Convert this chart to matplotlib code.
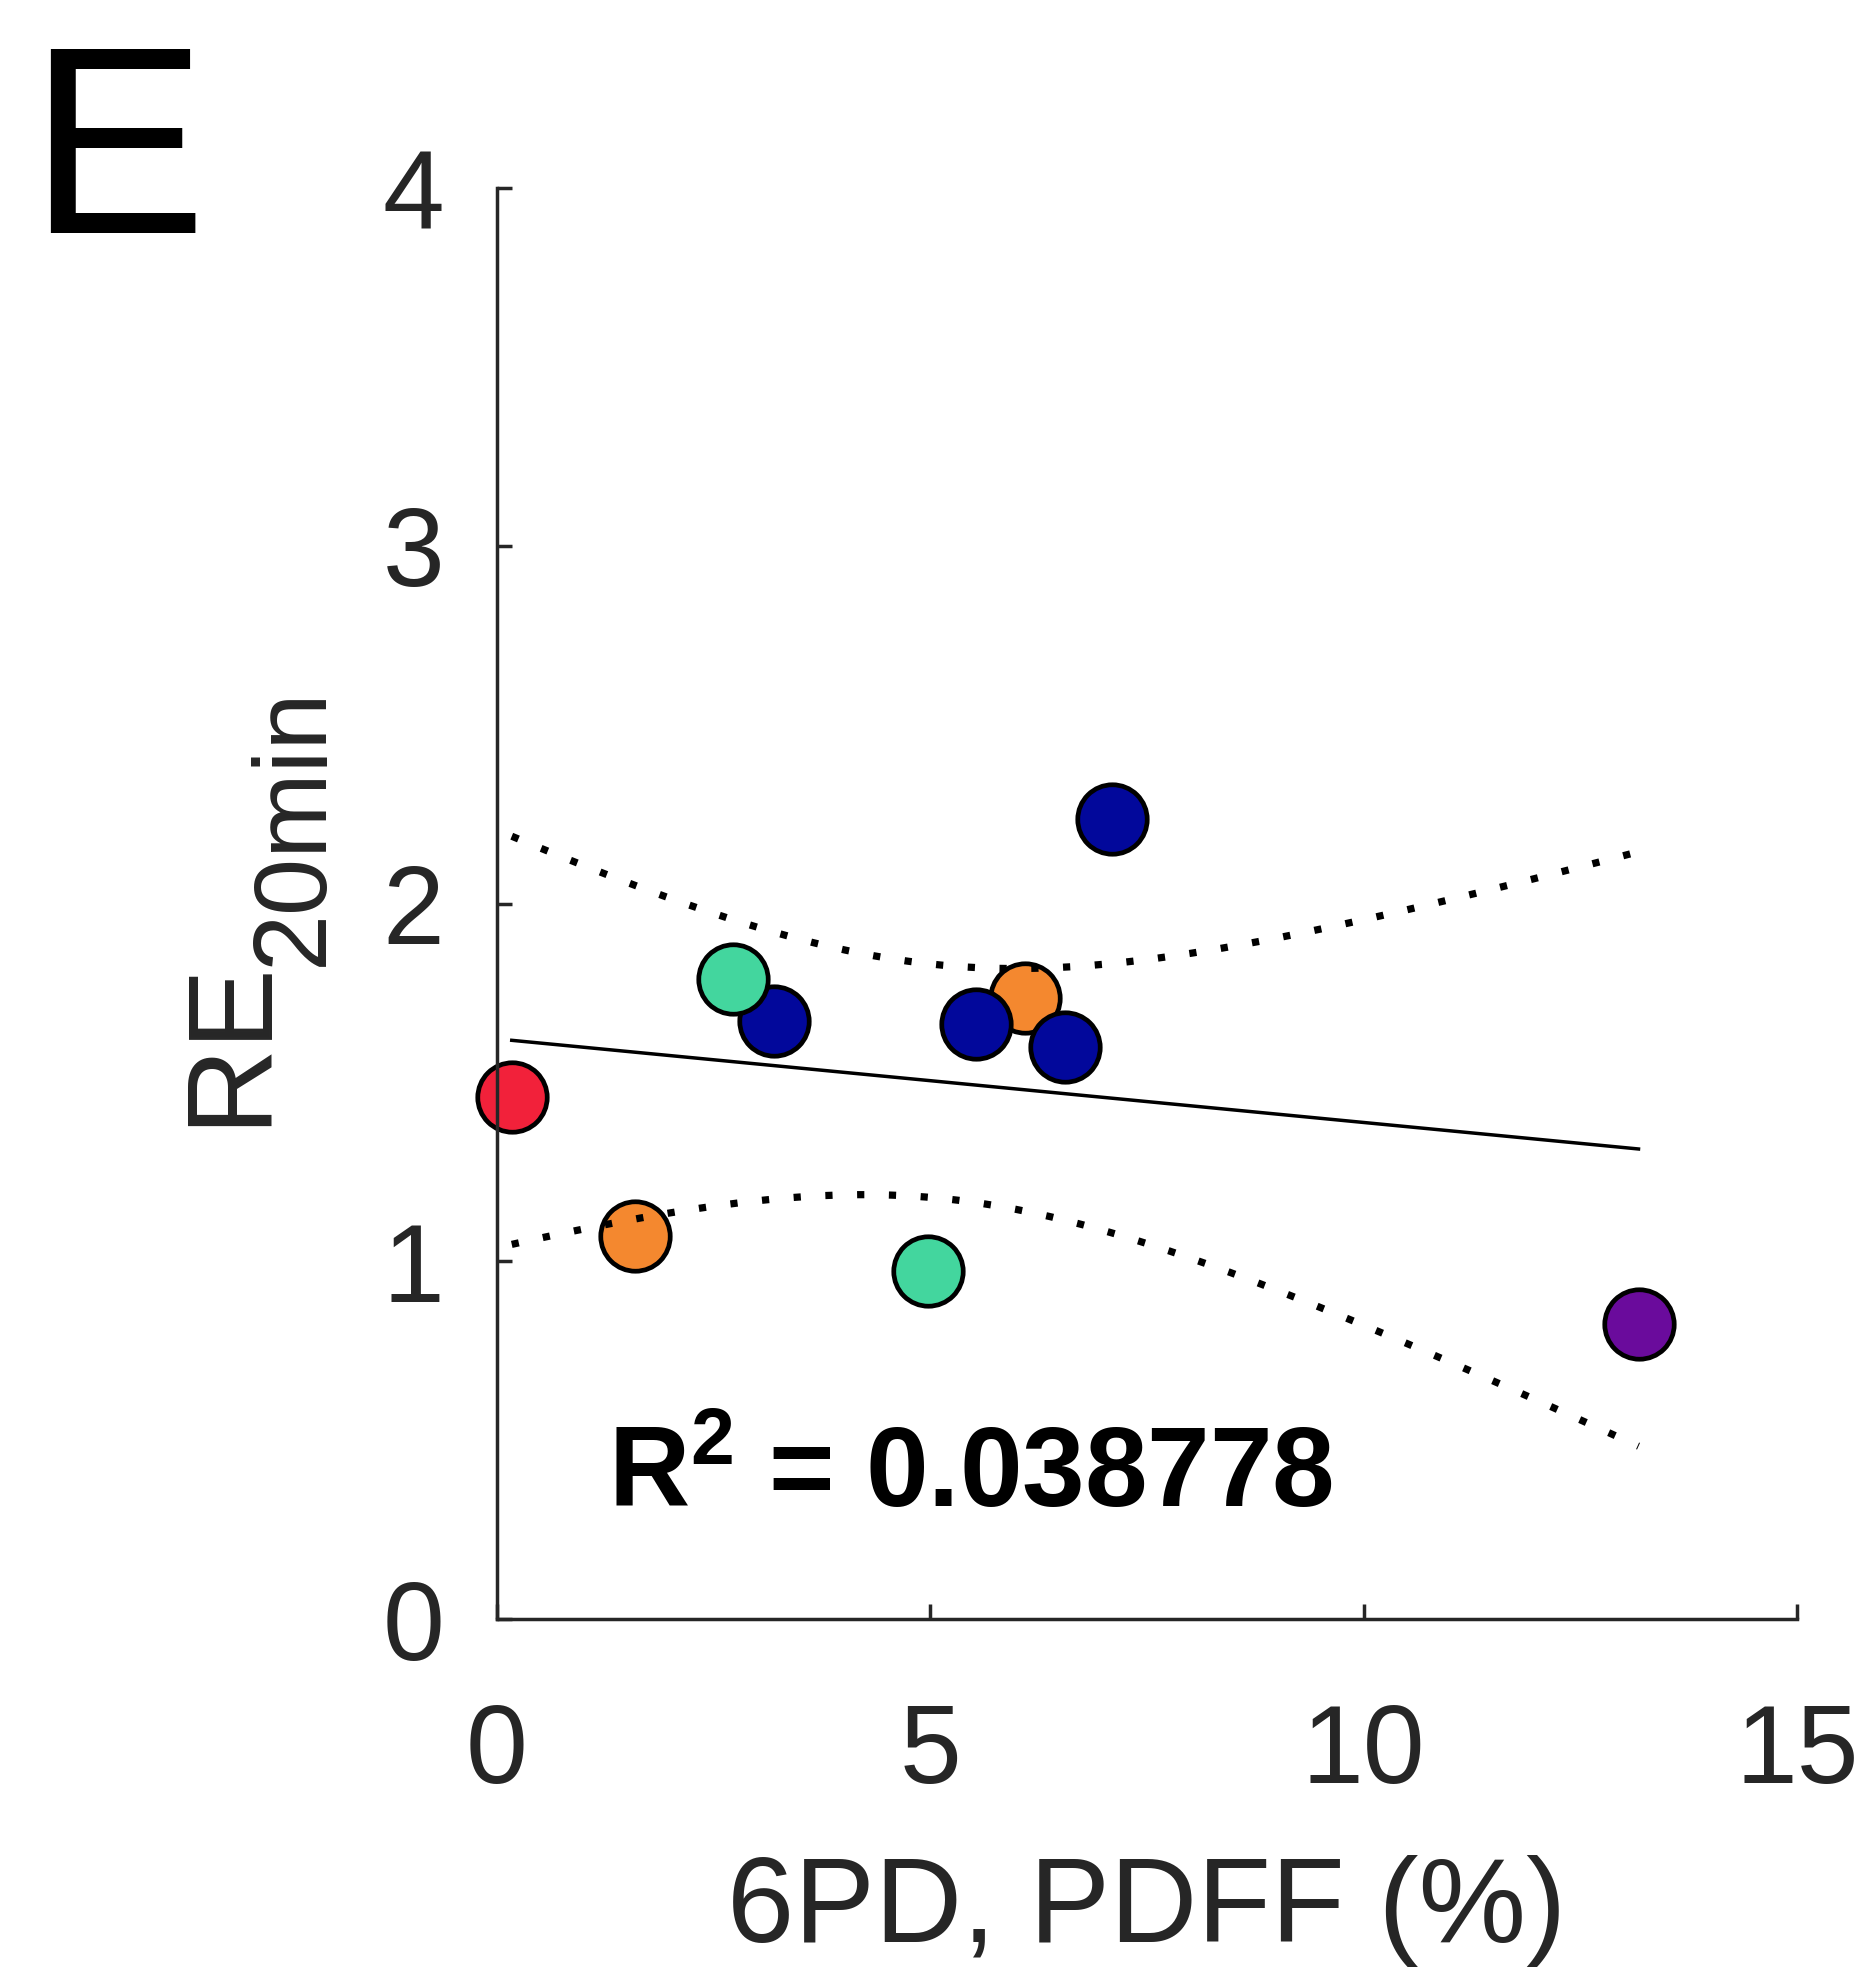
import numpy as np
import matplotlib
matplotlib.use("Agg")
import matplotlib.pyplot as plt

plt.rcParams['font.family'] = ['Liberation Sans', 'DejaVu Sans']
plt.rcParams['mathtext.fontset'] = 'custom'
plt.rcParams['mathtext.rm'] = 'Liberation Sans'
plt.rcParams['mathtext.it'] = 'Liberation Sans:italic'
plt.rcParams['mathtext.bf'] = 'Liberation Sans:bold'

# ---- data ----
pdff = [0.17, 1.59, 2.72, 3.19, 4.97, 5.53, 6.09, 6.55, 7.10, 13.17]
re20 = [1.459, 1.071, 1.789, 1.671, 0.974, 1.662, 1.736, 1.600, 2.236, 0.825]
group = ['red', 'orange', 'green', 'blue', 'green', 'blue', 'orange', 'blue', 'blue', 'purple']
group_order = ['orange', 'blue', 'green', 'red', 'purple']
group_colors = {'red': '#F2213A', 'orange': '#F4882F', 'green': '#43D69E',
                'blue': '#02089B', 'purple': '#6A0B9C'}
xticks = [0, 5, 10, 15]
yticks = [0, 1, 2, 3, 4]
r2_label = r'$\mathbf{R^2}$ = 0.038778'
xlabel = '6PD, PDFF (%)'
ylabel_main = 'RE'
ylabel_sub = '20min'
t_crit = 2.306  # t(0.975, df=8)

x = np.array(pdff)
y = np.array(re20)

W, H = 1872, 1973
fig = plt.figure(figsize=(W / 100, H / 100), dpi=100)
ax = fig.add_axes([0.2655, 0.1794, 0.9600 - 0.2655, 0.9047 - 0.1794])

for g in group_order:
    idx = [i for i, gg in enumerate(group) if gg == g]
    ax.plot(x[idx], y[idx], 'o', ms=50, mfc=group_colors[g], mec='black',
            mew=3.4, ls='none', zorder=2, clip_on=False)

# linear fit and 95% confidence band of the mean
slope, intercept = np.polyfit(x, y, 1)
n = len(x)
resid = y - (slope * x + intercept)
s = np.sqrt(np.sum(resid ** 2) / (n - 2))
xm = x.mean()
sxx = np.sum((x - xm) ** 2)
xf = np.linspace(x.min(), x.max(), 200)
yf = slope * xf + intercept
hw = t_crit * s * np.sqrt(1.0 / n + (xf - xm) ** 2 / sxx)

ax.plot(xf, yf, color='black', lw=2.5, zorder=3)
for band in (yf + hw, yf - hw):
    ax.plot(xf, band, color='black', lw=5.2, ls=(0, (1, 3.4)),
            dash_capstyle='butt', zorder=3)

ax.text(1.28, 0.316, r2_label, fontsize=81, fontweight='bold', color='black',
        ha='left', va='baseline', zorder=4)

ax.set_xlim(0, 15)
ax.set_ylim(0, 4)
ax.set_xticks(xticks)
ax.set_yticks(yticks)
ax.set_xticklabels([str(t) for t in xticks])
ax.set_yticklabels([str(t) for t in yticks])
for side in ('top', 'right'):
    ax.spines[side].set_visible(False)
for side in ('left', 'bottom'):
    ax.spines[side].set_linewidth(2.5)
    ax.spines[side].set_color('#262626')
ax.tick_params(direction='in', length=10.8, width=2.5, color='#262626',
               labelsize=80, labelcolor='#262626')
ax.tick_params(axis='x', pad=60)
ax.tick_params(axis='y', pad=38)

ax.set_xlabel(xlabel, fontsize=87, color='#262626', labelpad=35)

# y label: main text plus a lowered subscript
fig.text(288 / W, 1 - 1126 / H, ylabel_main, fontsize=87, color='#262626',
         rotation=90, ha='right', va='bottom')
fig.text(344 / W, 1 - 966 / H, ylabel_sub, fontsize=74, color='#262626',
         rotation=90, ha='right', va='bottom')

fig.text(0.015, 1 - 233 / H, 'E', fontsize=192, color='black',
         ha='left', va='baseline')

fig.savefig('out.png', dpi=100, facecolor='white')
